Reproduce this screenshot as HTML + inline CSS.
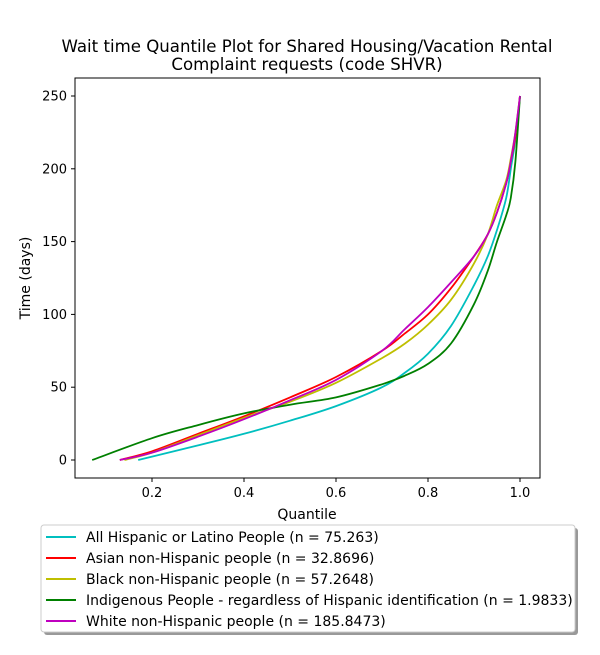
<!DOCTYPE html>
<html><head><meta charset="utf-8"><style>
body{margin:0;background:#fff;font-family:"Liberation Sans","DejaVu Sans",sans-serif}
</style></head><body>
<svg width="600" height="650" xmlns="http://www.w3.org/2000/svg" font-family="DejaVu Sans, Liberation Sans, sans-serif">
<text x="307" y="52" text-anchor="middle" font-size="16.6">Wait time Quantile Plot for Shared Housing/Vacation Rental</text>
<text x="307" y="70" text-anchor="middle" font-size="16.6">Complaint  requests (code SHVR)</text>
<g id="plot"></g>
<rect x="75" y="78" width="465" height="400" fill="none" stroke="#000" stroke-width="1"/>
<text x="307" y="519" text-anchor="middle" font-size="14">Quantile</text>
<text transform="translate(30,278) rotate(-90)" text-anchor="middle" font-size="14">Time (days)</text>
<rect x="44" y="528" width="534" height="107" fill="#999" rx="3"/>
<rect x="41" y="525" width="534" height="107" fill="#fff" stroke="#ccc" rx="3"/>
<g id="legend"></g>
</svg>
<script>
const quantiles=[0,0.2,0.3,0.4,0.5,0.6,0.7,0.75,0.8,0.85,0.9,0.93,0.95,0.97,0.98,0.99,1.0];
const seriesNames=["All Hispanic or Latino People (n = 75.263)","Asian non-Hispanic people (n = 32.8696)","Black non-Hispanic people (n = 57.2648)","Indigenous People - regardless of Hispanic identification (n = 1.9833)","White non-Hispanic people (n = 185.8473)"];
const seriesColors=["#00bfbf","#ff0000","#bfbf00","#008000","#bf00bf"];
const seriesStart=[0.17,0.13,0.14,0.07,0.13];
const hispanic=[0,3,10,18,27,37,50,60,73,92,120,140,158,180,200,220,250];
const asian=[0,6,18,30,43,57,75,87,100,118,140,155,170,190,205,222,250];
const black=[0,5,17,29,40,53,70,80,93,110,135,155,175,192,207,225,250];
const indigenous=[0,15,24,32,38,43,52,58,66,80,107,130,150,168,180,205,250];
const white=[0,5,16,28,41,55,75,90,105,122,140,155,170,190,205,225,250];
const seriesValues=[hispanic,asian,black,indigenous,white];
const xTicks=[0.2,0.4,0.6,0.8,1.0];
const xTickLabels=["0.2","0.4","0.6","0.8","1.0"];
const yTicks=[0,50,100,150,200,250];
const yTickLabels=["0","50","100","150","200","250"];
const NS="http://www.w3.org/2000/svg";
function xs(v){return 60+460*v;}
function ys(v){return 460-1.456*v;}
function smoothPath(P){
 let d='M'+P[0][0].toFixed(1)+','+P[0][1].toFixed(1);
 for(let i=0;i<P.length-1;i++){
  const p0=P[Math.max(0,i-1)],p1=P[i],p2=P[i+1],p3=P[Math.min(P.length-1,i+2)];
  const c1x=p1[0]+(p2[0]-p0[0])/6,c1y=p1[1]+(p2[1]-p0[1])/6;
  const c2x=p2[0]-(p3[0]-p1[0])/6,c2y=p2[1]-(p3[1]-p1[1])/6;
  d+=' C'+c1x.toFixed(1)+','+c1y.toFixed(1)+' '+c2x.toFixed(1)+','+c2y.toFixed(1)+' '+p2[0].toFixed(1)+','+p2[1].toFixed(1);
 }
 return d;
}
const plot=document.getElementById('plot');
xTicks.forEach((t,i)=>{
 const l=document.createElementNS(NS,'line');
 l.setAttribute('x1',xs(t));l.setAttribute('x2',xs(t));l.setAttribute('y1',478);l.setAttribute('y2',482);l.setAttribute('stroke','#000');
 
 
 plot.appendChild(l);
 const tx=document.createElementNS(NS,'text');
 tx.setAttribute('x',xs(t));tx.setAttribute('y',497);tx.setAttribute('text-anchor','middle');tx.setAttribute('font-size','13');tx.textContent=xTickLabels[i];
 
 
 plot.appendChild(tx);
});
yTicks.forEach((t,i)=>{
 const l=document.createElementNS(NS,'line');
 l.setAttribute('x1',71);l.setAttribute('x2',75);l.setAttribute('y1',ys(t));l.setAttribute('y2',ys(t));l.setAttribute('stroke','#000');
 
 
 plot.appendChild(l);
 const tx=document.createElementNS(NS,'text');
 tx.setAttribute('x',67);tx.setAttribute('y',ys(t)+4.5);tx.setAttribute('text-anchor','end');tx.setAttribute('font-size','13');tx.textContent=yTickLabels[i];
 
 
 plot.appendChild(tx);
});
seriesValues.forEach((vals,s)=>{
 const st=seriesStart[s];
 const pts=[];
 vals.forEach((v,i)=>{let q=quantiles[i];if(i===0)q=st;else if(q<st+0.04)return;pts.push([xs(q),ys(v)]);});
 const p=document.createElementNS(NS,'path');
 p.setAttribute('d',smoothPath(pts));p.setAttribute('fill','none');p.setAttribute('stroke',seriesColors[s]);p.setAttribute('stroke-width','1.8');p.setAttribute('stroke-linejoin','round');
 
 
 plot.appendChild(p);
});
const lg=document.getElementById('legend');
seriesNames.forEach((n,i)=>{
 const y=537+21*i;
 const l=document.createElementNS(NS,'line');
 l.setAttribute('x1',46);l.setAttribute('x2',76);l.setAttribute('y1',y);l.setAttribute('y2',y);l.setAttribute('stroke',seriesColors[i]);l.setAttribute('stroke-width','2');
 
 
 lg.appendChild(l);
 const tx=document.createElementNS(NS,'text');
 tx.setAttribute('x',86);tx.setAttribute('y',y+5);tx.setAttribute('font-size','14');tx.textContent=n;
 
 
 lg.appendChild(tx);
});
</script>
</body></html>
